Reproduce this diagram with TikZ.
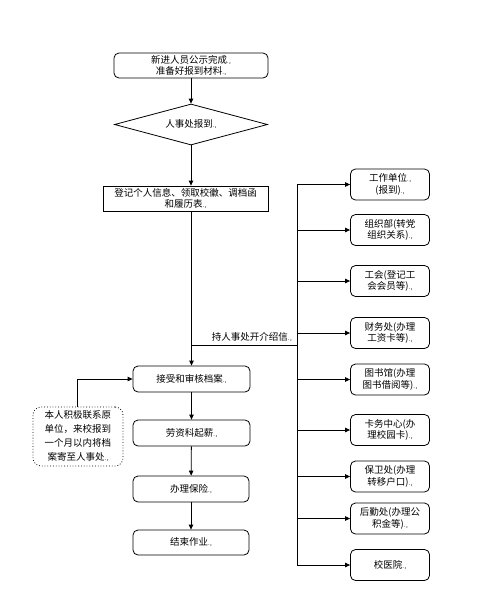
\documentclass[tikz,border=0pt]{standalone}
\usepackage{fontspec}
\setmainfont{Noto Sans CJK SC}
\XeTeXlinebreaklocale "zh"
\usetikzlibrary{shapes.geometric,arrows.meta}
\newcommand{\pmk}{{\fontsize{6}{6}\selectfont.\kern0.5pt,}}
\tikzset{
  x=1pt,y=-1pt,
  every node/.style={font=\fontsize{9.5}{11.5}\selectfont, align=center, inner sep=1pt},
  rbox/.style={draw, rounded corners=5pt, line width=0.8pt},
  sbox/.style={draw, line width=0.8pt},
  conn/.style={line width=0.8pt, -{Triangle[length=5pt,width=4.5pt]}},
  plain/.style={line width=0.8pt},
}
\begin{document}
\begin{tikzpicture}
\useasboundingbox (0,0) rectangle (493,603);
% left column
\node[rbox, minimum width=154pt, minimum height=25pt] (a) at (191,65.5) {新进人员公示完成\pmk\\准备好报到材料\pmk};
\node[draw, diamond, line width=0.8pt, minimum width=153pt, minimum height=41pt, aspect=3.7, inner sep=0pt] (b) at (191,124.5) {人事处报到\pmk};
\node[sbox, minimum width=165pt, minimum height=25pt] (c) at (185.5,198.5) {登记个人信息、领取校徽、调档函\\和履历表\pmk};
\node[rbox, minimum width=117pt, minimum height=26pt] (d) at (191.5,379) {接受和审核档案\pmk};
\node[rbox, minimum width=117pt, minimum height=26pt] (e) at (191.5,433) {劳资科起薪\pmk};
\node[rbox, minimum width=116pt, minimum height=26pt] (f) at (191,489) {办理保险\pmk};
\node[rbox, minimum width=116pt, minimum height=25pt] (g) at (191,542.5) {结束作业\pmk};
\node[draw, dotted, rounded corners=8pt, line width=0.8pt, minimum width=90pt, minimum height=59pt, font=\fontsize{9.5}{14}\selectfont] (n) at (78,436.5) {本人积极联系原\\单位，来校报到\\一个月以内将档\\案寄至人事处\pmk};
% right column
\tikzset{right/.style={rbox, minimum width=79pt, minimum height=31pt}}
\node[right] (r1) at (390,184.5) {工作单位\pmk\\(报到)\pmk};
\node[right] (r2) at (390,230) {组织部(转党\\组织关系)\pmk};
\node[right] (r3) at (390,281) {工会(登记工\\会会员等)\pmk};
\node[right] (r4) at (390,333) {财务处(办理\\工资卡等)\pmk};
\node[right] (r5) at (390,379.5) {图书馆(办理\\图书借阅等)\pmk};
\node[right] (r6) at (390,430) {卡务中心(办\\理校园卡)\pmk};
\node[right] (r7) at (390,476.5) {保卫处(办理\\转移户口)\pmk};
\node[right] (r8) at (390,518.5) {后勤处(办理公\\积金等)\pmk};
\node[right] (r9) at (390,565) {校医院\pmk};
% connectors
\draw[conn] (a) -- (b);
\draw[conn] (b.south) -- (b.south |- c.north);
\draw[conn] (c.south -| d.north) -- (d);
\draw[conn] (d) -- (e);
\draw[conn] (e) -- (f);
\draw[conn] (f) -- (g);
\coordinate (j) at (191.5,345);
\coordinate (bt) at (297,184.5);
\coordinate (bb) at (297,565);
\draw[plain] (j) -- (297,345);
\node[anchor=south east, inner sep=1pt] (lbl) at (293,343) {持人事处开介绍信\pmk};
\draw[plain] (bt) -- (bb);
\foreach \i in {1,...,9} {
  \draw[conn] (297,0 |- r\i.west) -- (r\i.west);
}
\draw[conn] (n.north -| 77,0) |- (d.west);
\end{tikzpicture}
\end{document}
